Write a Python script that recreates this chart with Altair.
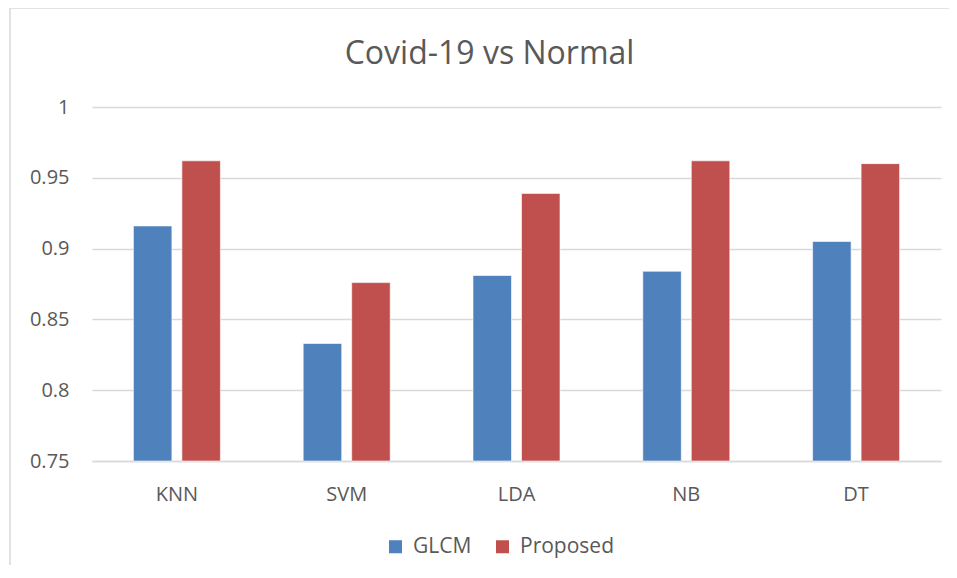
import altair as alt
import pandas as pd

categories = ["KNN", "SVM", "LDA", "NB", "DT"]
glcm = [0.916, 0.833, 0.881, 0.884, 0.905]
proposed = [0.962, 0.876, 0.939, 0.962, 0.960]
series = ["GLCM", "Proposed"]
y_ticks = [0.75, 0.8, 0.85, 0.9, 0.95, 1.0]

rows = []
for c, g, p in zip(categories, glcm, proposed):
    rows.append({"cat": c, "series": "GLCM", "value": g})
    rows.append({"cat": c, "series": "Proposed", "value": p})
df = pd.DataFrame(rows)

FONT = "Open Sans"
TXT = "#595959"
GRID = "#D9D9D9"

bars = alt.Chart(df).mark_bar(stroke="#ffffff", strokeOpacity=0.6, strokeWidth=1).encode(
    x=alt.X("cat:N", sort=categories, title=None,
            scale=alt.Scale(paddingInner=0.4876, paddingOuter=0.2438),
            axis=alt.Axis(labelAngle=0, ticks=False, domain=True, domainColor=GRID,
                          domainWidth=1.5, labelFontSize=20, labelColor=TXT,
                          labelFont=FONT, labelPadding=23, grid=False)),
    xOffset=alt.XOffset("series:N", sort=series,
                        scale=alt.Scale(paddingInner=0.206, paddingOuter=0)),
    y=alt.Y("value:Q", title=None,
            scale=alt.Scale(domain=[0.75, 1.0], zero=False, nice=False),
            axis=alt.Axis(values=y_ticks, format="~g", ticks=False, domain=False,
                          grid=True, gridColor=GRID, gridWidth=1.5,
                          labelFontSize=20, labelColor=TXT, labelFont=FONT,
                          labelPadding=23)),
    y2=alt.datum(0.75),
    color=alt.Color("series:N", sort=series, title=None,
                    scale=alt.Scale(domain=series, range=["#4F81BD", "#C0504D"]),
                    legend=alt.Legend(orient="none", legendX=293, legendY=429,
                                      direction="horizontal", symbolType="square",
                                      symbolSize=169, symbolStrokeWidth=0,
                                      labelFontSize=21, labelColor=TXT, labelFont=FONT,
                                      labelOffset=7, columnPadding=20, padding=0)),
)

frame = alt.Chart(pd.DataFrame({"f": [0]})).mark_rect(
    fill=None, stroke=GRID, strokeWidth=1.5
).encode(
    x=alt.value(-82), x2=alt.value(2000), y=alt.value(-99), y2=alt.value(1000)
)

chart = alt.layer(frame, bars).properties(
    width=849, height=354,
    padding={"left": 84, "top": 99, "right": 8, "bottom": 104},
    autosize=alt.AutoSizeParams(type="none"),
    title=alt.TitleParams("Covid-19 vs Normal", fontSize=32, font=FONT, color=TXT,
                          fontWeight="normal", anchor="middle", dx=-27, dy=89,
                          baseline="alphabetic", offset=0),
).configure_view(stroke=None)

chart.save("out.html", embed_options={"renderer": "svg", "actions": False})
